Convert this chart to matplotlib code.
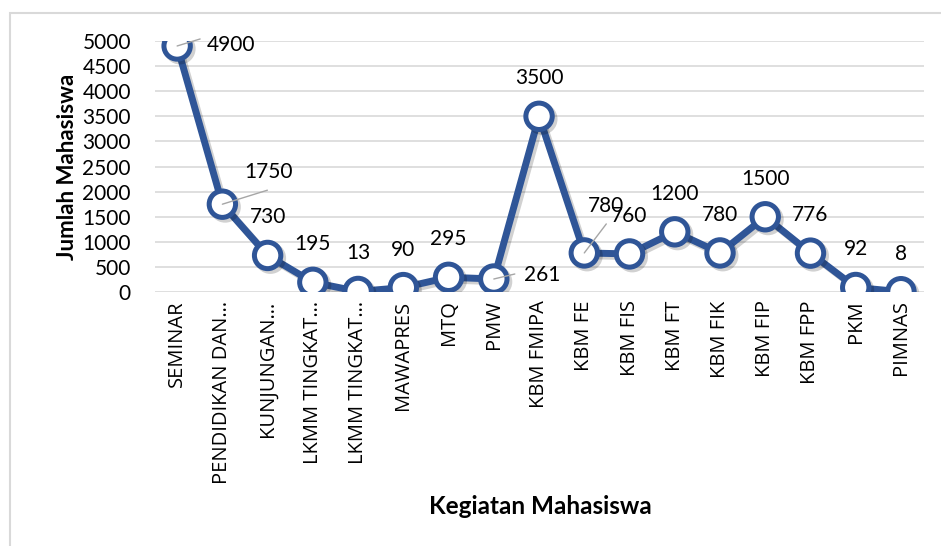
import matplotlib.pyplot as plt
import matplotlib.patheffects as pe
from matplotlib.patches import Rectangle
import numpy as np

# data
kegiatan = ["SEMINAR", "PENDIDIKAN DAN…", "KUNJUNGAN…", "LKMM TINGKAT…",
            "LKMM TINGKAT…", "MAWAPRES", "MTQ", "PMW", "KBM FMIPA", "KBM FE",
            "KBM FIS", "KBM FT", "KBM FIK", "KBM FIP", "KBM FPP", "PKM", "PIMNAS"]
jumlah = [4900, 1750, 730, 195, 13, 90, 295, 261, 3500, 780,
          760, 1200, 780, 1500, 776, 92, 8]
y_ticks = [0, 500, 1000, 1500, 2000, 2500, 3000, 3500, 4000, 4500, 5000]

biru = "#2F5597"
font_angka = "Lato"

fig = plt.figure(figsize=(9.41, 5.46), dpi=100)
ax = fig.add_axes([0.1642, 0.465, 0.8173, 0.46])

# chart border (only left/top visible in original)
fig.patches.append(Rectangle((10 / 941, -0.1), 1.2, (546 - 13) / 546 + 0.1,
                             transform=fig.transFigure, fill=False,
                             edgecolor="#D9D9D9", linewidth=1.5))

x = np.arange(len(kegiatan))
shadow = [pe.SimpleLineShadow(offset=(2, -2), shadow_color="black", alpha=0.18), pe.Normal()]
ax.plot(x, jumlah, color=biru, linewidth=5, marker="o", markersize=19,
        markerfacecolor="white", markeredgecolor=biru, markeredgewidth=3.6,
        zorder=3, path_effects=shadow, solid_joinstyle="round")

# data labels: (dx, dy) in pixels, leader line or not
offsets = {0: (54, 1, True), 1: (46, 32, True), 7: (48, 4, True), 9: (22, 47, True)}
ends = {0: (23, 7), 1: (45, 14), 7: (21, 5), 9: (22, 29)}
for i, v in enumerate(jumlah):
    dx, dy, leader = offsets.get(i, (0, 38, False))
    ax.annotate(str(v), (i, v), xytext=(dx * 0.72, dy * 0.72), textcoords="offset points",
                ha="center", va="center", fontsize=15, family=font_angka, zorder=5)
    if leader:
        ex, ey = ends[i]
        ax.annotate("", (i, v), xytext=(ex * 0.72, ey * 0.72), textcoords="offset points",
                    arrowprops=dict(arrowstyle="-", color="#A6A6A6", lw=1,
                                    shrinkA=0, shrinkB=0), zorder=4)

ax.set_xlim(-0.5, len(kegiatan) - 0.5)
ax.set_ylim(0, 5000)
ax.set_yticks(y_ticks)
ax.set_yticklabels([str(t) for t in y_ticks], fontsize=15, family=font_angka)
ax.set_xticks(x)
ax.set_xticklabels(kegiatan, rotation=90)
for lbl in ax.get_xticklabels():
    lbl.set_fontfamily("Open Sans")
    lbl.set_fontsize(14.5)
ax.tick_params(length=0, pad=6)
ax.tick_params(axis="y", pad=17)
ax.grid(axis="y", color="#D9D9D9", linewidth=1.2)
ax.set_axisbelow(True)
for s in ax.spines.values():
    s.set_visible(False)

ax.set_ylabel("Jumlah Mahasiswa", fontsize=16, fontweight="bold", family=font_angka, labelpad=3)
fig.text(0.5745, 0.072, "Kegiatan Mahasiswa", ha="center", va="center",
         fontsize=17.5, fontweight="bold", family=font_angka)

fig.savefig("out.png", dpi=100)
